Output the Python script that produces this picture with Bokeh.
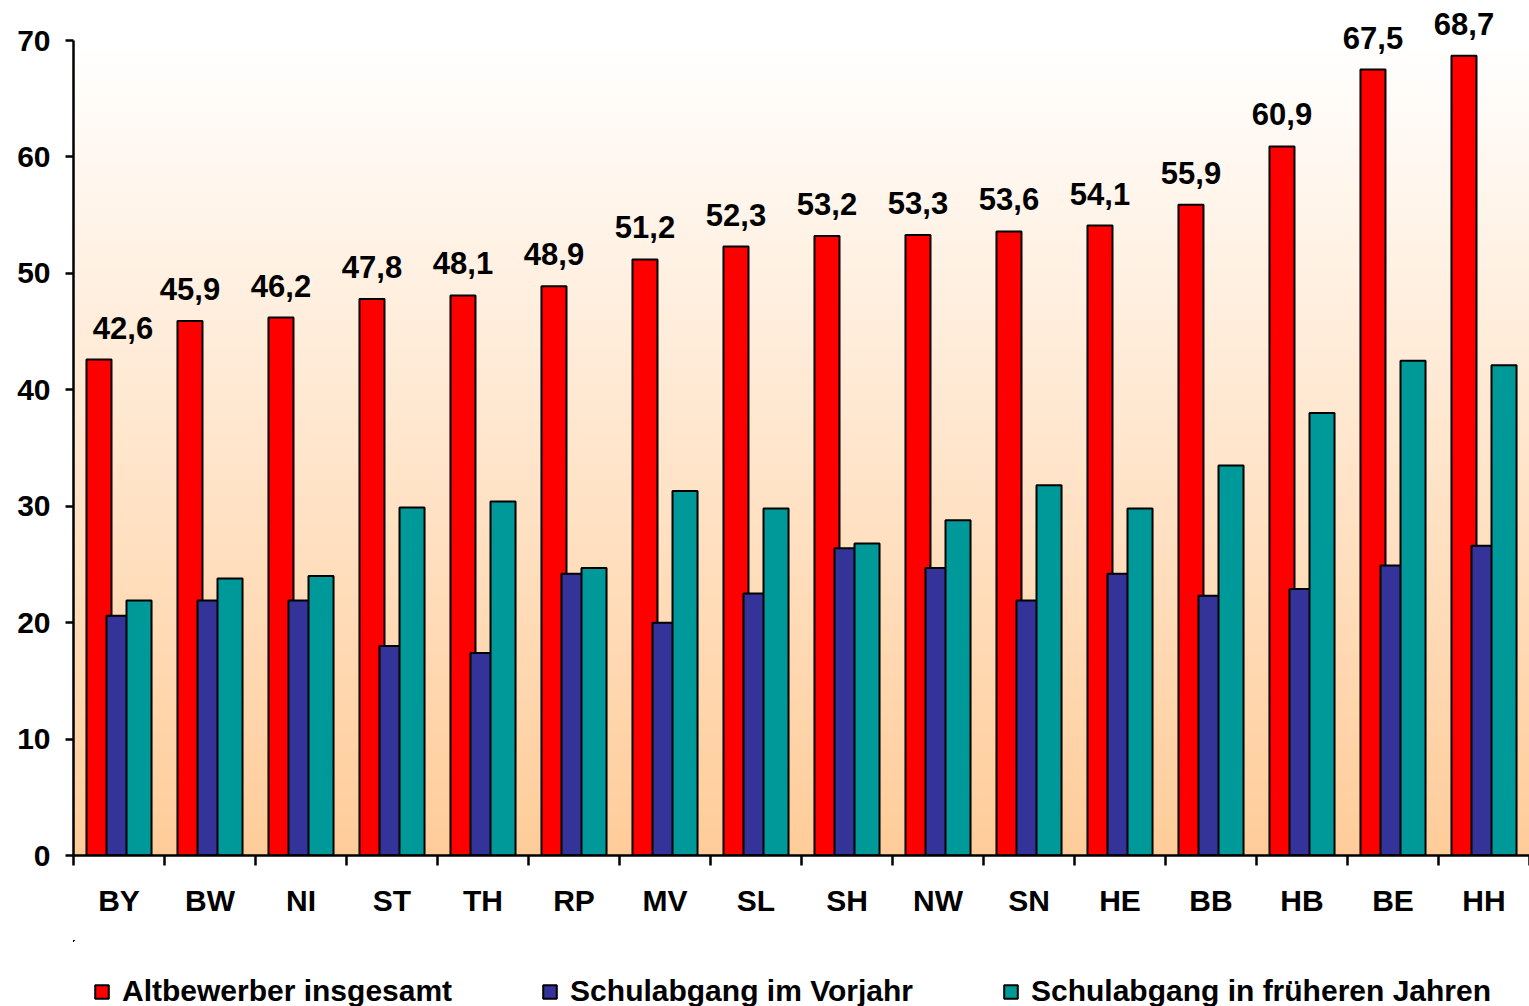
import numpy as np
from bokeh.plotting import figure
from bokeh.layouts import column
from bokeh.models import (ColumnDataSource, Range1d, FixedTicker, Legend, LegendItem,
                          LabelSet)
from bokeh.core.properties import value
from bokeh.embed import file_html
from bokeh.resources import INLINE

# ---- data -------------------------------------------------------------
laender = ["BY", "BW", "NI", "ST", "TH", "RP", "MV", "SL",
           "SH", "NW", "SN", "HE", "BB", "HB", "BE", "HH"]
altbewerber = [42.6, 45.9, 46.2, 47.8, 48.1, 48.9, 51.2, 52.3,
               53.2, 53.3, 53.6, 54.1, 55.9, 60.9, 67.5, 68.7]
vorjahr = [20.6, 21.9, 21.9, 18.0, 17.4, 24.2, 20.0, 22.5,
           26.4, 24.7, 21.9, 24.2, 22.3, 22.9, 24.9, 26.6]
frueher = [21.9, 23.8, 24.0, 29.9, 30.4, 24.7, 31.3, 29.8,
           26.8, 28.8, 31.8, 29.8, 33.5, 38.0, 42.5, 42.1]
series_names = ["Altbewerber insgesamt", "Schulabgang im Vorjahr",
                "Schulabgang in früheren Jahren"]
y_ticks = [0, 10, 20, 30, 40, 50, 60, 70]
y_max = 70

# ---- styling / layout -----------------------------------------------------
FONT = "Liberation Sans"
colors = ["#FF0000", "#333399", "#009999"]
n = len(laender)
xc = np.arange(n) + 0.5
offsets = [-0.22, 0.0, 0.22]
bar_w = 0.275

W = 1529
MAIN_H = 940
FRAME_H = 855          # frame spans from top edge to the x axis
AXIS_TOP_PX = 40       # pixel position of the value 70
y_end = y_max * FRAME_H / (FRAME_H - AXIS_TOP_PX)

p = figure(width=W, height=MAIN_H, x_range=Range1d(0, n), y_range=Range1d(0, y_end),
           output_backend="svg", toolbar_location=None,
           min_border_left=73, min_border_right=0, min_border_top=0,
           min_border_bottom=MAIN_H - FRAME_H)
p.outline_line_color = None
p.xgrid.visible = False
p.ygrid.visible = False
p.background_fill_color = "white"
p.border_fill_color = "white"

# gradient background of the plot area (0..70)
N = 256
img = np.empty((N, 1), dtype=np.uint32)
view = img.view(dtype=np.uint8).reshape((N, 1, 4))
for r in range(N):
    t = r / (N - 1)
    view[r, 0, 0] = 255
    view[r, 0, 1] = int(round(204 + 51 * t))
    view[r, 0, 2] = int(round(153 + 102 * t))
    view[r, 0, 3] = 255
p.image_rgba(image=[img], x=0, y=0, dw=n, dh=y_max)

sources = []
for vals, col, off in zip([altbewerber, vorjahr, frueher], colors, offsets):
    src = ColumnDataSource(dict(x=xc + off, top=vals))
    sources.append(src)
    p.vbar(x="x", top="top", width=bar_w, source=src,
           fill_color=col, line_color="black", line_width=2)

# value labels above red bars
lab_src = ColumnDataSource(dict(
    x=xc + offsets[0], y=altbewerber,
    text=[f"{v:.1f}".replace(".", ",") for v in altbewerber],
    dx=[24] + [0] * (n - 1),
))
labels = LabelSet(x="x", y="y", text="text", x_offset="dx", y_offset=21, source=lab_src,
                  text_align="center", text_baseline="alphabetic",
                  text_font=value(FONT), text_font_style="bold", text_font_size="31px",
                  text_color="black")
p.add_layout(labels)

# y axis
ya = p.yaxis[0]
ya.bounds = (0, y_max)
ya.ticker = FixedTicker(ticks=y_ticks)
ya.axis_line_width = 2.5
ya.major_tick_line_width = 2.5
ya.major_tick_out = 8
ya.major_tick_in = 0
ya.minor_tick_out = 0
ya.minor_tick_in = 0
ya.major_label_standoff = 15
ya.major_label_text_font = FONT
ya.major_label_text_font_style = "bold"
ya.major_label_text_font_size = "30px"
ya.major_label_text_color = "black"

# x axis: labels at category centres, ticks at category boundaries
xa = p.xaxis[0]
xa.ticker = FixedTicker(ticks=list(xc), minor_ticks=list(range(n + 1)))
xa.major_label_overrides = {float(c): name for c, name in zip(xc, laender)}
xa.axis_line_width = 2.5
xa.major_tick_out = 0
xa.major_tick_in = 0
xa.minor_tick_out = 10
xa.minor_tick_in = 0
xa.minor_tick_line_width = 2.5
xa.minor_tick_line_color = "black"
xa.major_label_standoff = 18
xa.major_label_text_font = FONT
xa.major_label_text_font_style = "bold"
xa.major_label_text_font_size = "30px"
xa.major_label_text_color = "black"

# ---- legend strip below the chart ---------------------------------------
LEG_H = 1006 - MAIN_H
pl = figure(width=W, height=LEG_H, x_range=Range1d(100, 101), y_range=Range1d(-200, -100),
            output_backend="svg", toolbar_location=None,
            x_axis_location=None, y_axis_location=None,
            min_border_left=0, min_border_right=0, min_border_top=0, min_border_bottom=0)
pl.outline_line_color = None
pl.xgrid.visible = False
pl.ygrid.visible = False
pl.background_fill_color = "white"
pl.border_fill_color = "white"

leg_renderers = []
for src, col in zip(sources, colors):
    # same series, outside this strip's visible range: only the legend swatch shows
    rr = pl.vbar(x="x", top="top", width=bar_w, source=src,
                 fill_color=col, line_color="black", line_width=2)
    leg_renderers.append(rr)

legend = Legend(
    items=[LegendItem(label=nm, renderers=[r]) for nm, r in zip(series_names, leg_renderers)],
    orientation="horizontal", location=(20, -2), spacing=89,
    padding=0, margin=0, border_line_color=None, background_fill_alpha=0,
    glyph_width=17, glyph_height=17, label_standoff=12,
    label_text_font=FONT, label_text_font_style="bold", label_text_font_size="30px",
    label_text_color="black",
)
pl.add_layout(legend)

layout = column(p, pl, spacing=0)
open("out.html", "w").write(file_html(layout, INLINE))
